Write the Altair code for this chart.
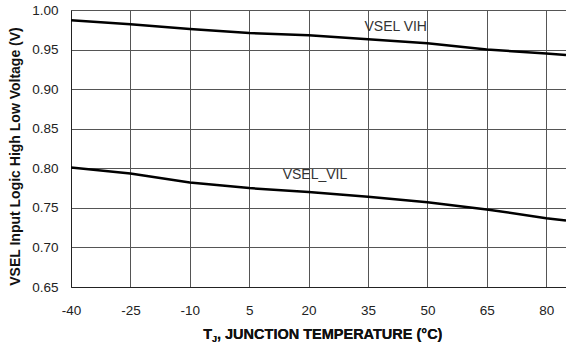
import altair as alt
import pandas as pd

temps = [-40, -25, -10, 5, 20, 35, 50, 65, 80, 85]
vih = [0.987, 0.982, 0.976, 0.971, 0.968, 0.963, 0.958, 0.950, 0.945, 0.943]
vil = [0.801, 0.7935, 0.782, 0.775, 0.770, 0.764, 0.757, 0.748, 0.737, 0.734]
x_ticks = [-40, -25, -10, 5, 20, 35, 50, 65, 80]
y_ticks = [0.65, 0.70, 0.75, 0.80, 0.85, 0.90, 0.95, 1.00]
label_text = ["VSEL VIH", "VSEL_VIL"]
label_x = [42, 21.6]
label_y = [0.9785, 0.791]

rows = []
for t, a, b in zip(temps, vih, vil):
    rows.append({"t": t, "v": a, "s": "VIH"})
    rows.append({"t": t, "v": b, "s": "VIL"})
df = pd.DataFrame(rows)
lab = pd.DataFrame({"t": label_x, "v": label_y, "txt": label_text})

FONT = "Liberation Sans"
xs = alt.Scale(domain=[-40, 85], nice=False, zero=False)
ys = alt.Scale(domain=[0.65, 1.0], nice=False, zero=False)

lines = alt.Chart(df).mark_line(color="black", strokeWidth=2.5, clip=True).encode(
    x=alt.X("t:Q", scale=xs, axis=alt.Axis(values=x_ticks, tickCount=20, title=None, labelFontSize=13.5,
                                           labelFont=FONT, labelColor="#222", ticks=False,
                                           labelExpr="'' + datum.value", labelOverlap=False,
                                           labelPadding=16, grid=True, gridColor="#555",
                                           gridWidth=1, domainColor="#222", labelFlush=False)),
    y=alt.Y("v:Q", scale=ys, axis=alt.Axis(values=y_ticks, tickCount=20, format=".2f",
                                           title="VSEL Input Logic High Low Voltage (V)",
                                           titleFont=FONT, titleFontSize=14, titleFontWeight="bold",
                                           titleColor="#111", titleX=-56, titleY=146,
                                           titleBaseline="middle", labelOverlap=False,
                                           labelFontSize=13.5, labelFont=FONT, labelColor="#222",
                                           ticks=False, labelPadding=13, grid=True, gridColor="#555",
                                           gridWidth=1, domainColor="#222", labelFlush=False)),
    detail="s:N",
)

labels = alt.Chart(lab).mark_text(font=FONT, fontSize=14, color="#333").encode(
    x=alt.X("t:Q", scale=xs), y=alt.Y("v:Q", scale=ys), text="txt:N"
)

t1 = alt.Chart(lab).mark_text(font=FONT, fontSize=14.5, fontWeight="bold", color="#111",
                              align="right", baseline="middle").encode(
    x=alt.value(141), y=alt.value(325), text=alt.value("T"))
t2 = alt.Chart(lab).mark_text(font=FONT, fontSize=9, fontWeight="bold", color="#111",
                              align="left", baseline="middle").encode(
    x=alt.value(141), y=alt.value(329), text=alt.value("J"))
t3 = alt.Chart(lab).mark_text(font=FONT, fontSize=14.5, fontWeight="bold", color="#111",
                              align="left", baseline="middle").encode(
    x=alt.value(146), y=alt.value(325), text=alt.value(", JUNCTION TEMPERATURE (°C)"))

chart = alt.layer(lines, labels, t1, t2, t3).properties(
    width=495, height=277,
    autosize=alt.AutoSizeParams(type="none"),
    padding={"left": 71, "top": 10, "right": 0, "bottom": 61},
).configure_view(stroke=None).configure(background="white")

chart.save("out.html", embed_options={"renderer": "svg", "actions": False})
